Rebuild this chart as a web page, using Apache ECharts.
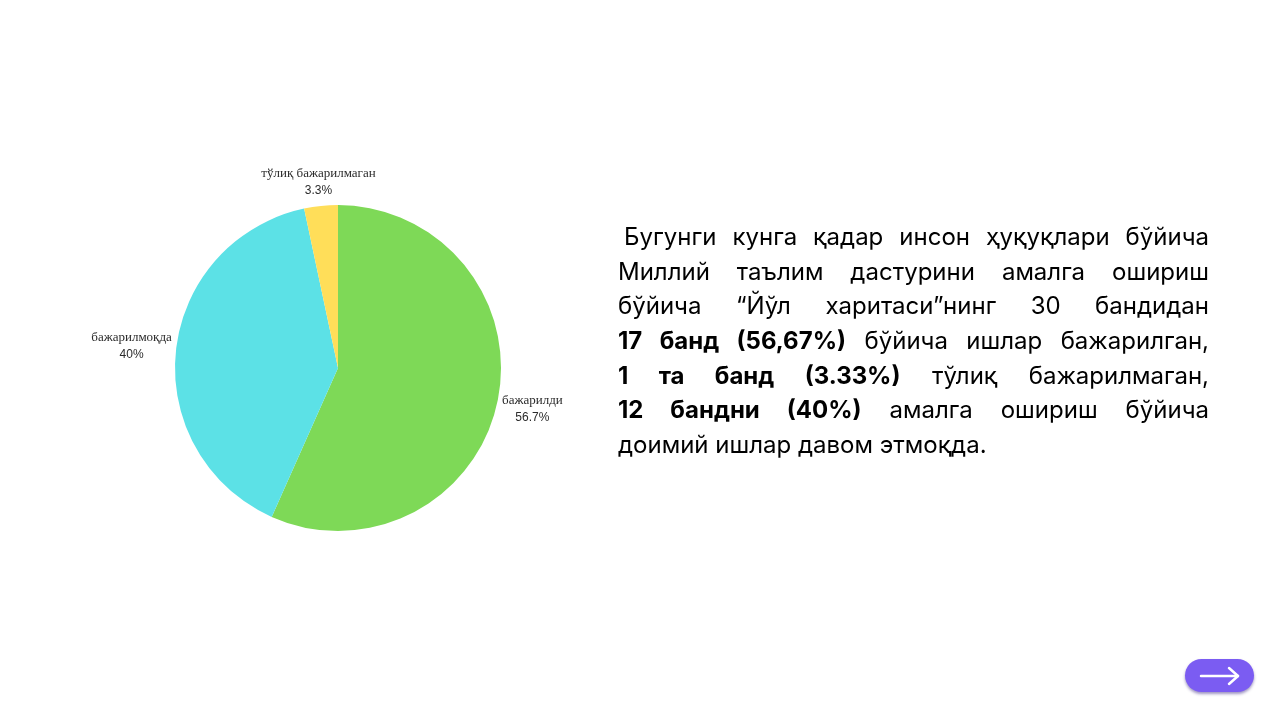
<!DOCTYPE html>
<html>
<head>
<meta charset="utf-8">
<script src="https://cdn.jsdelivr.net/npm/echarts@6/dist/echarts.min.js"></script>
<style>
  html, body { margin: 0; padding: 0; background: #ffffff; }
  #chart { position: absolute; left: 0; top: 0; width: 1271px; height: 720px; }
  #para {
    position: absolute; left: 618px; top: 220px; width: 591px;
    font-family: Inter, "Noto Sans", sans-serif; font-size: 24px; color: #000;
    line-height: 34.67px;
  }
  #para .ln { text-align: justify; text-align-last: justify; white-space: nowrap; display: block; }
  #para .last { text-align: left; text-align-last: left; }
  #para b { font-weight: 700; }
</style>
</head>
<body>
<div id="chart"></div>
<div id="para"></div>
<script>
// ---- data ----
const categories = ['бажарилди', 'бажарилмоқда', 'тўлиқ бажарилмаган'];
const values = [17, 12, 1];
const colors = ['#7ED957', '#5CE1E6', '#FFDE59'];

const paragraphLines = [
  ['', 'Бугунги кунга қадар инсон ҳуқуқлари бўйича'],
  ['', 'Миллий таълим дастурини амалга ошириш'],
  ['', 'бўйича “Йўл харитаси”нинг 30 бандидан'],
  ['17 банд (56,67%)', ' бўйича ишлар бажарилган,'],
  ['1 та банд (3.33%)', ' тўлиқ бажарилмаган,'],
  ['12 бандни (40%)', ' амалга ошириш бўйича'],
  ['', 'доимий ишлар давом этмоқда.']
];

// ---- paragraph ----
const para = document.getElementById('para');
paragraphLines.forEach((l, i) => {
  const d = document.createElement('div');
  d.className = 'ln' + (i === paragraphLines.length - 1 ? ' last' : '');
  if (i === 0) d.style.paddingLeft = '6px';
  if (l[0]) { const b = document.createElement('b'); b.textContent = l[0]; d.appendChild(b); }
  d.appendChild(document.createTextNode(l[1]));
  para.appendChild(d);
});

// ---- chart ----
const chart = echarts.init(document.getElementById('chart'));
const CX = 338, CY = 368, R = 163, GAP = 3;
const total = values.reduce((a, b) => a + b, 0);

function labelLayout(p) {
  const i = p.dataIndex;
  let before = 0;
  for (let k = 0; k < i; k++) before += values[k];
  const mid = (before + values[i] / 2) / total * Math.PI * 2;
  const ux = Math.sin(mid), uy = -Math.cos(mid);
  const w = p.labelRect.width, h = p.labelRect.height;
  const d = R + GAP + Math.abs(ux) * w / 2 + Math.abs(uy) * h / 2;
  return { x: CX + ux * d, y: CY + uy * d, align: 'center', verticalAlign: 'middle' };
}

chart.setOption({
  backgroundColor: '#ffffff',
  animation: false,
  series: [{
    type: 'pie',
    center: [CX, CY],
    radius: R,
    startAngle: 90,
    clockwise: true,
    percentPrecision: 1,
    color: colors,
    itemStyle: { borderWidth: 0 },
    label: {
      show: true,
      position: 'outside',
      formatter: '{n|{b}}\n{p|{d}%}',
      rich: {
        n: { fontFamily: 'Liberation Serif, DejaVu Serif, serif', fontSize: 13, color: '#2b2b2b', lineHeight: 17, align: 'center' },
        p: { fontFamily: 'Liberation Sans, Arial, sans-serif', fontSize: 12, color: '#2b2b2b', lineHeight: 17, align: 'center' }
      }
    },
    labelLine: { show: false },
    labelLayout: labelLayout,
    data: categories.map((c, i) => ({ name: c, value: values[i] }))
  }],
  graphic: [{
    type: 'group',
    children: [
      { type: 'rect', shape: { x: 1185, y: 659, width: 69, height: 33, r: 16.5 },
        style: { fill: '#7B5CF2', shadowColor: 'rgba(40,20,120,0.45)', shadowOffsetY: 2, shadowBlur: 3 } },
      { type: 'line', shape: { x1: 1201, y1: 676, x2: 1238, y2: 676 },
        style: { stroke: '#ffffff', lineWidth: 2.5, lineCap: 'round' } },
      { type: 'polyline', shape: { points: [[1229, 668], [1238, 676], [1229, 684]] },
        style: { stroke: '#ffffff', fill: null, lineWidth: 2.5, lineCap: 'round', lineJoin: 'round' } }
    ]
  }]
});
</script>
</body>
</html>
